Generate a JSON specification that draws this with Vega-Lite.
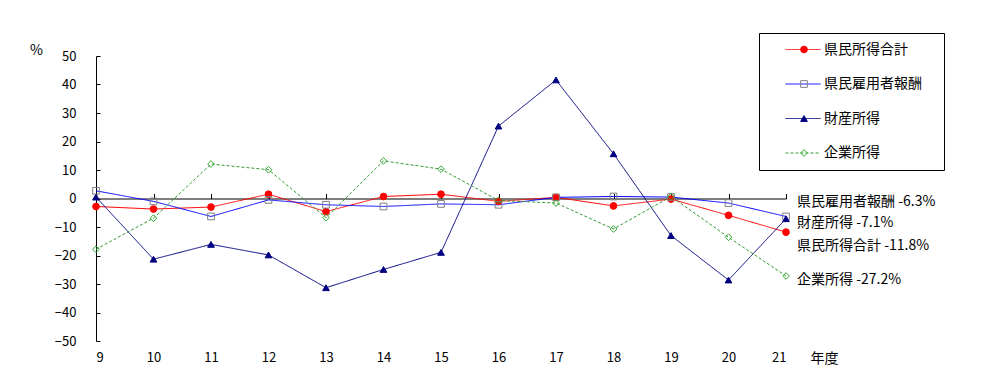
{
  "$schema": "https://vega.github.io/schema/vega-lite/v6.json",
  "width": 690,
  "height": 285,
  "autosize": {"type": "none"},
  "padding": {"left": 96, "top": 56, "right": 207, "bottom": 35},
  "background": "white",
  "config": {"view": {"stroke": null}, "font": "Noto Sans CJK JP", "axis": {"grid": false, "labelOverlap": false}, "axisY": {"labelOverlap": false}},
  "datasets": {
    "main": [
      {"year": 9, "series": "県民所得合計", "value": -2.8},
      {"year": 10, "series": "県民所得合計", "value": -3.7},
      {"year": 11, "series": "県民所得合計", "value": -3.0},
      {"year": 12, "series": "県民所得合計", "value": 1.5},
      {"year": 13, "series": "県民所得合計", "value": -4.6},
      {"year": 14, "series": "県民所得合計", "value": 0.7},
      {"year": 15, "series": "県民所得合計", "value": 1.5},
      {"year": 16, "series": "県民所得合計", "value": -1.0},
      {"year": 17, "series": "県民所得合計", "value": 0.4},
      {"year": 18, "series": "県民所得合計", "value": -2.6},
      {"year": 19, "series": "県民所得合計", "value": -0.2},
      {"year": 20, "series": "県民所得合計", "value": -5.9},
      {"year": 21, "series": "県民所得合計", "value": -11.8},
      {"year": 9, "series": "県民雇用者報酬", "value": 2.7},
      {"year": 10, "series": "県民雇用者報酬", "value": -1.0},
      {"year": 11, "series": "県民雇用者報酬", "value": -6.3},
      {"year": 12, "series": "県民雇用者報酬", "value": -0.5},
      {"year": 13, "series": "県民雇用者報酬", "value": -2.2},
      {"year": 14, "series": "県民雇用者報酬", "value": -2.8},
      {"year": 15, "series": "県民雇用者報酬", "value": -1.9},
      {"year": 16, "series": "県民雇用者報酬", "value": -2.2},
      {"year": 17, "series": "県民雇用者報酬", "value": 0.4},
      {"year": 18, "series": "県民雇用者報酬", "value": 0.7},
      {"year": 19, "series": "県民雇用者報酬", "value": 0.5},
      {"year": 20, "series": "県民雇用者報酬", "value": -1.6},
      {"year": 21, "series": "県民雇用者報酬", "value": -6.3},
      {"year": 9, "series": "財産所得", "value": 0.5},
      {"year": 10, "series": "財産所得", "value": -21.3},
      {"year": 11, "series": "財産所得", "value": -16.1},
      {"year": 12, "series": "財産所得", "value": -19.8},
      {"year": 13, "series": "財産所得", "value": -31.3},
      {"year": 14, "series": "財産所得", "value": -24.9},
      {"year": 15, "series": "財産所得", "value": -18.9},
      {"year": 16, "series": "財産所得", "value": 25.4},
      {"year": 17, "series": "財産所得", "value": 41.6},
      {"year": 18, "series": "財産所得", "value": 15.7},
      {"year": 19, "series": "財産所得", "value": -13.0},
      {"year": 20, "series": "財産所得", "value": -28.6},
      {"year": 21, "series": "財産所得", "value": -7.1},
      {"year": 9, "series": "企業所得", "value": -17.8},
      {"year": 10, "series": "企業所得", "value": -6.9},
      {"year": 11, "series": "企業所得", "value": 12.1},
      {"year": 12, "series": "企業所得", "value": 10.1},
      {"year": 13, "series": "企業所得", "value": -6.7},
      {"year": 14, "series": "企業所得", "value": 13.2},
      {"year": 15, "series": "企業所得", "value": 10.3},
      {"year": 16, "series": "企業所得", "value": -0.7},
      {"year": 17, "series": "企業所得", "value": -1.6},
      {"year": 18, "series": "企業所得", "value": -10.7},
      {"year": 19, "series": "企業所得", "value": 0.7},
      {"year": 20, "series": "企業所得", "value": -13.6},
      {"year": 21, "series": "企業所得", "value": -27.2}
    ],
    "notes": [
      {"year": 21, "labelY": -1.1, "label": "県民雇用者報酬 -6.3%"},
      {"year": 21, "labelY": -8.5, "label": "財産所得 -7.1%"},
      {"year": 21, "labelY": -16.6, "label": "県民所得合計 -11.8%"},
      {"year": 21, "labelY": -28.6, "label": "企業所得 -27.2%"}
    ]
  },
  "resolve": {"axis": {"x": "independent"}},
  "layer": [
    {
      "data": {"name": "main"},
      "mark": {"type": "line", "strokeWidth": 1},
      "encoding": {
        "x": {
          "field": "year", "type": "quantitative",
          "scale": {"domain": [9, 21], "nice": false, "zero": false},
          "axis": {
            "orient": "bottom", "values": [9, 10, 11, 12, 13, 14, 15, 16, 17, 18, 19, 20, 21],
            "format": "d", "domain": false, "ticks": false, "labelPadding": 10,
            "labelFontSize": 13, "labelColor": "black",
            "title": "年度", "titleX": 714, "titleY": 17, "titleAlign": "left", "titleBaseline": "middle",
            "titleFontSize": 14, "titleFontWeight": "normal", "titleColor": "black"
          }
        },
        "y": {
          "field": "value", "type": "quantitative",
          "scale": {"domain": [-50, 50], "nice": false},
          "axis": {
            "values": [-50, -40, -30, -20, -10, 0, 10, 20, 30, 40, 50], "labelOverlap": false,
            "domain": true, "domainColor": "black", "tickColor": "black", "tickSize": -4, "labelPadding": 24,
            "labelFontSize": 13, "labelColor": "black",
            "title": "%", "titleAngle": 0, "titleX": -60, "titleY": -6, "titleAlign": "center",
            "titleBaseline": "middle", "titleFontSize": 14, "titleFontWeight": "normal", "titleColor": "black"
          }
        },
        "color": {
          "field": "series", "type": "nominal",
          "scale": {"domain": ["県民所得合計", "県民雇用者報酬", "財産所得", "企業所得", " "], "range": ["#FF0000", "#0000FF", "#000080", "#339933", "#000000"]},
          "legend": {
            "orient": "none", "legendX": 663, "legendY": -23,
            "values": ["県民所得合計", "県民雇用者報酬", "財産所得", "企業所得"],
            "title": "　", "titleOrient": "right", "titlePadding": 12, "titleFontSize": 14,
            "padding": 10, "strokeColor": "black",
            "symbolType": "stroke", "symbolSize": 1225, "symbolStrokeWidth": 1, "symbolOffset": 16,
            "labelOffset": 3, "labelFontSize": 14, "labelColor": "black", "rowPadding": 19.5, "clipHeight": 13
          }
        },
        "strokeDash": {
          "field": "series", "type": "nominal",
          "scale": {"domain": ["県民所得合計", "県民雇用者報酬", "財産所得", "企業所得", " "], "range": [[1, 0], [1, 0], [1, 0], [3, 2], [1, 0]]}
        }
      }
    },
    {
      "data": {"name": "main"},
      "mark": {"type": "point", "filled": true, "strokeWidth": 1, "opacity": 1, "size": 45},
      "encoding": {
        "x": {
          "field": "year", "type": "quantitative",
          "axis": {
            "orient": "top", "offset": -142.5, "values": [9, 10, 11, 12, 13, 14, 15, 16, 17, 18, 19, 20, 21],
            "labels": false, "domainColor": "black", "tickColor": "black", "tickSize": 5, "title": null
          }
        },
        "y": {
          "field": "value", "type": "quantitative",
          "axis": {
            "values": [-50, -40, -30, -20, -10, 0, 10, 20, 30, 40, 50], "labelOverlap": false,
            "domain": true, "domainColor": "black", "tickColor": "black", "tickSize": -4, "labelPadding": 24,
            "labelFontSize": 13, "labelColor": "black",
            "title": "%", "titleAngle": 0, "titleX": -60, "titleY": -6, "titleAlign": "center",
            "titleBaseline": "middle", "titleFontSize": 14, "titleFontWeight": "normal", "titleColor": "black"
          }
        },
        "shape": {
          "field": "series", "type": "nominal",
          "scale": {"domain": ["県民所得合計", "県民雇用者報酬", "財産所得", "企業所得"], "range": ["circle", "square", "triangle-up", "diamond"]},
          "legend": {
            "orient": "none", "legendX": 663, "legendY": -23, "title": null,
            "padding": 10, "symbolSize": 45, "symbolStrokeWidth": 1, "symbolOffset": 28,
            "labelOffset": 18, "labelFontSize": 14, "labelExpr": "''", "rowPadding": 19.5, "clipHeight": 13
          }
        },
        "fill": {
          "field": "series", "type": "nominal",
          "scale": {"domain": ["県民所得合計", "県民雇用者報酬", "財産所得", "企業所得"], "range": ["#FF0000", "transparent", "#000080", "transparent"]},
          "legend": {
            "orient": "none", "legendX": 663, "legendY": -23, "title": null,
            "padding": 10, "symbolSize": 45, "symbolStrokeWidth": 1, "symbolOffset": 28,
            "labelOffset": 18, "labelFontSize": 14, "labelExpr": "''", "rowPadding": 19.5, "clipHeight": 13
          }
        },
        "stroke": {
          "field": "series", "type": "nominal",
          "scale": {"domain": ["県民所得合計", "県民雇用者報酬", "財産所得", "企業所得"], "range": ["#FF0000", "#808080", "#000080", "#33AA33"]},
          "legend": {
            "orient": "none", "legendX": 663, "legendY": -23, "title": null,
            "padding": 10, "symbolSize": 45, "symbolStrokeWidth": 1, "symbolOffset": 28,
            "labelOffset": 18, "labelFontSize": 14, "labelExpr": "''", "rowPadding": 19.5, "clipHeight": 13
          }
        }
      }
    },
    {
      "data": {"name": "notes"},
      "mark": {"type": "text", "align": "left", "baseline": "middle", "dx": 11, "fontSize": 14, "color": "black"},
      "encoding": {
        "x": {"field": "year", "type": "quantitative", "axis": null},
        "y": {
          "field": "labelY", "type": "quantitative",
          "axis": {
            "values": [-50, -40, -30, -20, -10, 0, 10, 20, 30, 40, 50], "labelOverlap": false,
            "domain": true, "domainColor": "black", "tickColor": "black", "tickSize": -4, "labelPadding": 24,
            "labelFontSize": 13, "labelColor": "black",
            "title": "%", "titleAngle": 0, "titleX": -60, "titleY": -6, "titleAlign": "center",
            "titleBaseline": "middle", "titleFontSize": 14, "titleFontWeight": "normal", "titleColor": "black"
          }
        },
        "text": {"field": "label"}
      }
    }
  ]
}
